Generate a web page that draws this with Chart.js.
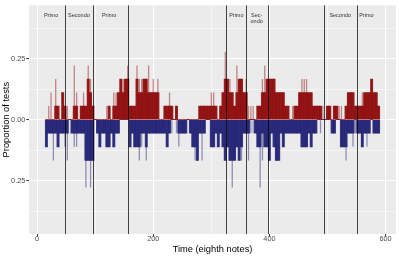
<!DOCTYPE html>
<html>
<head>
<meta charset="utf-8">
<script src="https://cdn.jsdelivr.net/npm/chart.js@4.4.1/dist/chart.umd.min.js"></script>
<style>
  html, body { margin: 0; padding: 0; background: #fff; }
  #boite { width: 399px; height: 256px; }
</style>
</head>
<body>
<div id="boite"><canvas id="myChart"></canvas></div>
<script>
// ====================================
// ==== Data ==========================
// ====================================

// bars sit every 4 eighth notes, starting at note 16
const firstNote = 16;
const noteStep = 4;
// counts of tests (out of nTests) per bar: "solid" = dark overlap, "top" = full height
const nTests = 18;
const redSolid = [
  0,0,0,0,1,1,0,2,1,0, 0,0,1,1,0,1,1,1,3,2, 1,0,0,0,0,0,0,1,0,1,
  1,2,3,2,3,3,1,1,1,3, 2,2,3,3,2,2,2,2,2,0, 0,1,1,1,1,0,1,0,0,0,
  0,0,0,0,0,0,1,1,1,1, 1,1,1,1,0,1,2,3,3,2, 2,1,2,3,3,2,2,0,0,0,
  0,1,1,2,2,3,3,3,3,2, 2,2,2,1,1,0,0,1,1,2, 2,2,2,2,2,1,1,1,1,0,
  0,1,1,0,1,1,0,0,0,1, 2,2,2,1,1,1,1,2,2,2, 3,2,2,1
];
const redTop = [
  0,1,2,0,3,1,0,2,1,1, 0,0,4,2,0,1,2,1,4,3, 1,0,0,0,0,0,1,1,0,2,
  2,2,3,3,3,4,1,1,1,4, 3,3,3,3,4,2,3,2,3,0, 0,1,1,2,1,0,1,0,0,0,
  0,0,0,0,0,0,1,1,1,1, 1,2,2,1,0,1,2,5,3,3, 2,1,4,3,3,2,3,1,1,1,
  0,1,1,3,4,3,3,3,3,2, 2,2,2,1,1,0,1,1,1,2, 3,3,3,2,2,1,1,1,1,1,
  0,1,1,0,1,1,1,1,0,1, 2,2,2,1,1,1,2,2,2,2, 3,2,2,1
];
const blueSolid = [
  2,1,1,1,1,2,1,1,1,1, 0,1,1,1,1,1,1,3,3,3, 3,0,1,2,1,1,2,2,1,2,
  1,1,0,0,0,0,2,1,2,2, 2,1,1,2,1,1,1,1,1,1, 1,1,2,1,0,0,0,1,1,1,
  1,0,1,2,2,3,1,1,1,0, 0,2,2,1,2,1,2,3,2,3, 3,3,2,3,2,1,1,1,0,0,
  1,2,2,1,2,2,3,1,2,3, 3,1,2,1,1,1,1,1,1,1, 2,2,2,1,2,1,1,0,0,0,
  0,0,0,1,1,0,0,2,2,2, 1,1,1,0,1,1,2,1,1,1, 0,1,1,1
];
const blueTop = [
  2,1,1,3,1,2,1,1,2,3, 0,1,2,2,1,1,1,5,3,5, 3,0,1,2,1,1,2,2,1,2,
  1,1,0,0,0,0,2,1,2,2, 3,2,1,3,1,1,1,1,1,1, 1,1,2,1,1,0,1,2,1,1,
  1,0,1,2,3,3,1,3,1,0, 0,2,2,1,2,1,2,3,2,3, 5,3,2,3,3,1,1,3,1,1,
  1,2,5,3,2,2,3,1,2,3, 3,1,2,1,1,1,1,1,1,1, 2,2,2,1,2,1,1,0,1,0,
  0,0,0,1,1,0,0,2,2,3, 1,1,2,1,1,1,2,1,2,1, 0,1,1,1
];

// section boundaries (eighth notes) and the labels written above them
const sectionBounds = [48, 96, 156, 326, 360, 397, 494, 550];
const labelTimes = [24, 72, 124, 343, 378, 522, 567];
const labelTexts = ['Primo', 'Secondo', 'Primo', 'Primo', 'Sec-\nondo', 'Secondo', 'Primo'];
const labelLevel = 0.425;

// axes
const xTicks = [0, 100, 200, 300, 400, 500, 600];
const xMajor = [0, 200, 400, 600];
const yTicks = [-0.375, -0.25, -0.125, 0, 0.125, 0.25, 0.375];
const yMajor = [-0.25, 0, 0.25];

// ====================================
// ==== Chart config ==================
// ====================================

const police = "'Liberation Sans', Arial, sans-serif";
const rouge = 'rgba(139,0,0,';
const bleu = 'rgba(25,25,112,';

function enPoints(valeurs, signe) {
  return valeurs.map((v, i) => ({ x: firstNote + noteStep * i, y: signe * v / nTests }));
}
function estMajeur(liste, v) {
  return liste.some(m => Math.abs(m - v) < 1e-9);
}
// le contexte n'a pas toujours de tick (bordure de l'axe)
function tickMajeur(liste, c) {
  return !!(c && c.tick) && estMajeur(liste, c.tick.value);
}

const barCommun = {
  grouped: false,
  categoryPercentage: 1,
  borderWidth: 0
};

const data = {
  datasets: [
    //barres fines et claires : hauteur totale
    Object.assign({ label: 'red top', data: enPoints(redTop, 1), backgroundColor: rouge + '0.45)', barPercentage: 0.55 }, barCommun),
    Object.assign({ label: 'red solid', data: enPoints(redSolid, 1), backgroundColor: rouge + '0.85)', barPercentage: 1 }, barCommun),
    Object.assign({ label: 'blue top', data: enPoints(blueTop, -1), backgroundColor: bleu + '0.45)', barPercentage: 0.55 }, barCommun),
    Object.assign({ label: 'blue solid', data: enPoints(blueSolid, -1), backgroundColor: bleu + '0.85)', barPercentage: 1 }, barCommun)
  ]
};

//fond gris du panneau (style ggplot)
const FondPanneau = {
  id: 'FondPanneau',
  beforeDraw(chart) {
    const { ctx, chartArea: { left, top, right, bottom } } = chart;
    ctx.save();
    ctx.fillStyle = '#FFFFFF';
    ctx.fillRect(0, 0, chart.width, chart.height);
    ctx.fillStyle = '#EBEBEB';
    ctx.fillRect(left, top, right - left, bottom - top);
    ctx.restore();
  }
};

//lignes verticales des sections + textes
const Sections = {
  id: 'Sections',
  afterDatasetsDraw(chart) {
    const { ctx, chartArea: { top, bottom }, scales: { x, y } } = chart;
    ctx.save();
    ctx.strokeStyle = 'rgba(0,0,0,0.72)';
    ctx.lineWidth = 1;
    sectionBounds.forEach(t => {
      const px = Math.round(x.getPixelForValue(t)) + 0.5;
      ctx.beginPath();
      ctx.moveTo(px, top);
      ctx.lineTo(px, bottom);
      ctx.stroke();
    });
    ctx.font = '5.5px ' + police;
    ctx.fillStyle = '#333333';
    ctx.textAlign = 'center';
    ctx.textBaseline = 'middle';
    labelTexts.forEach((txt, i) => {
      const px = x.getPixelForValue(labelTimes[i]);
      const py = y.getPixelForValue(labelLevel);
      txt.split('\n').forEach((ligne, k) => ctx.fillText(ligne, px, py + k * 5.2));
    });
    ctx.restore();
  }
};

const config = {
  type: 'bar',
  data,
  options: {
    responsive: true,
    maintainAspectRatio: false,
    animation: false,
    devicePixelRatio: 1,
    layout: { padding: { top: 3, right: 3, left: 0, bottom: 0 } },
    plugins: {
      legend: { display: false },
      tooltip: { enabled: false }
    },
    scales: {
      x: {
        type: 'linear',
        position: 'bottom',
        offset: false,
        min: -14,
        max: 618,
        afterBuildTicks: s => { s.ticks = xTicks.map(v => ({ value: v })); },
        afterFit: s => { s.height = 22; },
        ticks: {
          autoSkip: false,
          maxRotation: 0,
          padding: -1,
          color: '#4D4D4D',
          font: { family: police, size: 7.3, lineHeight: 1 },
          callback: v => estMajeur(xMajor, v) ? String(v) : ''
        },
        grid: {
          offset: false,
          color: '#FFFFFF',
          lineWidth: c => tickMajeur(xMajor, c) ? 1.07 : 0.53,
          tickColor: c => tickMajeur(xMajor, c) ? '#333333' : 'rgba(0,0,0,0)',
          tickWidth: 1,
          tickLength: 2.7
        },
        border: { display: false },
        title: {
          display: true,
          text: 'Time (eighth notes)',
          color: '#000000',
          font: { family: police, size: 9.3 },
          padding: { top: 0, bottom: 1.4 }
        }
      },
      y: {
        type: 'linear',
        min: -0.468,
        max: 0.468,
        afterBuildTicks: s => { s.ticks = yTicks.map(v => ({ value: v })); },
        afterFit: s => { s.width = 29; },
        ticks: {
          autoSkip: false,
          padding: 1,
          color: '#4D4D4D',
          font: { family: police, size: 7.3 },
          callback: v => estMajeur(yMajor, v) ? Math.abs(v).toFixed(2) : ''
        },
        grid: {
          color: '#FFFFFF',
          lineWidth: c => tickMajeur(yMajor, c) ? 1.07 : 0.53,
          tickColor: c => tickMajeur(yMajor, c) ? '#333333' : 'rgba(0,0,0,0)',
          tickWidth: 1,
          tickLength: 2.7
        },
        border: { display: false },
        title: {
          display: true,
          text: 'Proportion of tests',
          color: '#000000',
          font: { family: police, size: 9.3 },
          padding: { top: 1.1, bottom: 0 }
        }
      }
    }
  },
  plugins: [FondPanneau, Sections]
};

// Création du diagramme :
const myChart = new Chart(document.getElementById('myChart'), config);
</script>
</body>
</html>
